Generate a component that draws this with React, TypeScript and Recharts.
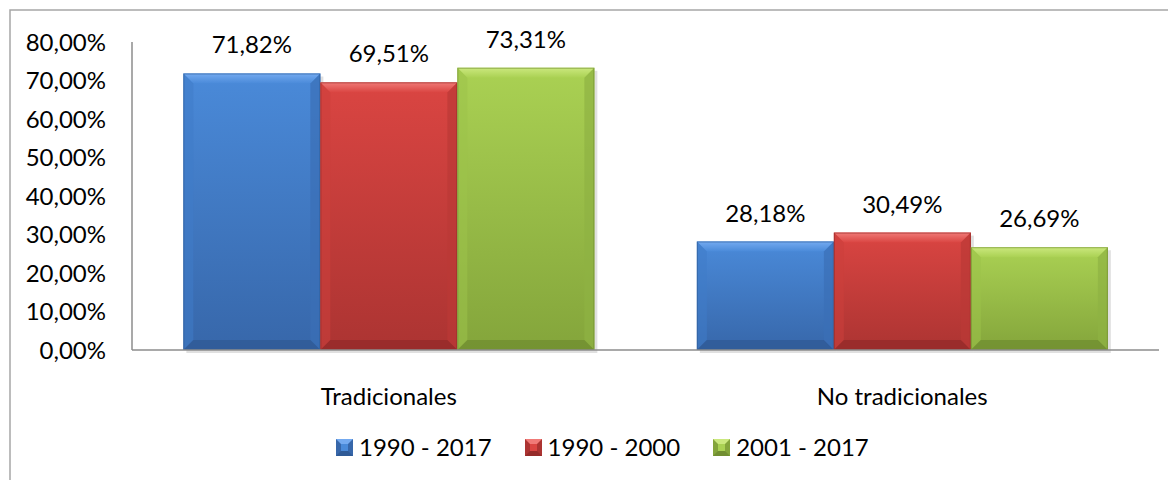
import React from "react";
import { BarChart, Bar, XAxis, YAxis, Legend, LabelList, Customized } from "recharts";

const categories = ["Tradicionales", "No tradicionales"];
const series1 = [0.7182, 0.2818];
const series2 = [0.6951, 0.3049];
const series3 = [0.7331, 0.2669];
const seriesNames = ["1990 - 2017", "1990 - 2000", "2001 - 2017"];
const yTicks = [0, 0.1, 0.2, 0.3, 0.4, 0.5, 0.6, 0.7, 0.8];

const data = categories.map((c, i) => ({
  name: c,
  s1: series1[i],
  s2: series2[i],
  s3: series3[i],
}));

const FONT = "Lato, 'Noto Sans', sans-serif";
const FS = 24;
const fmt = (v: number) => (v * 100).toFixed(2).replace(".", ",") + "%";

const palettes = [
  { id: "b", top: "#4a8ad9", bottom: "#3767aa", hi: "#74aaf0", lo: "#2f5a96", side: "#3f7bc8", sideR: "#3a6fb6", edge: "#2c5a95" },
  { id: "r", top: "#da4542", bottom: "#ac3432", hi: "#f07a77", lo: "#952b29", side: "#cc3f3c", sideR: "#bb3936", edge: "#8f2a28" },
  { id: "g", top: "#aad153", bottom: "#84a53b", hi: "#cbe87e", lo: "#718e31", side: "#9dc24a", sideR: "#8fb243", edge: "#6e8a2f" },
];

const makeShape = (p: typeof palettes[number]) => (props: any) => {
  const { x, y, width: w, height: h } = props;
  if (!h || h <= 0) return null;
  const b = Math.min(10, w / 4, h / 4);
  return (
    <g>
      <rect x={x + 3} y={y + 3} width={w} height={h} fill="rgba(0,0,0,0.12)" />
      <rect x={x} y={y} width={w} height={h} fill={`url(#grad-${p.id})`} />
      <polygon points={`${x},${y} ${x + w},${y} ${x + w - b},${y + b} ${x + b},${y + b}`} fill={`url(#hi-${p.id})`} />
      <polygon points={`${x},${y} ${x + b},${y + b} ${x + b},${y + h - b} ${x},${y + h}`} fill={p.side} opacity={0.55} />
      <polygon points={`${x + w},${y} ${x + w - b},${y + b} ${x + w - b},${y + h - b} ${x + w},${y + h}`} fill={p.sideR} opacity={0.7} />
      <polygon points={`${x},${y + h} ${x + b},${y + h - b} ${x + w - b},${y + h - b} ${x + w},${y + h}`} fill={p.lo} opacity={0.8} />
      <rect x={x + 0.5} y={y + 0.5} width={w - 1} height={h - 1} fill="none" stroke={p.edge} strokeWidth={1} opacity={0.6} />
    </g>
  );
};

const Swatch = ({ p }: { p: typeof palettes[number] }) => (
  <svg width={17} height={17} style={{ display: "block" }}>
    <rect x={0} y={0} width={17} height={17} fill={p.bottom} />
    <polygon points="0,0 17,0 12,5 5,5" fill={p.hi} />
    <polygon points="0,17 5,12 12,12 17,17" fill={p.lo} />
    <rect x={5} y={5} width={7} height={7} fill={p.top} />
  </svg>
);

const renderLegend = () => (
  <div style={{ display: "flex", alignItems: "center", height: 30, paddingLeft: 328, fontFamily: FONT, fontSize: FS, color: "#000" }}>
    {seriesNames.map((n, i) => (
      <div key={n} style={{ display: "flex", alignItems: "center", marginRight: 33 }}>
        <Swatch p={palettes[i]} />
        <span style={{ marginLeft: 6, lineHeight: "30px" }}>{n}</span>
      </div>
    ))}
  </div>
);

const CatTick = (props: any) => {
  const { x, y, payload } = props;
  return (
    <text x={x} y={y + 37} textAnchor="middle" dominantBaseline="central" fontFamily={FONT} fontSize={FS} fill="#000">
      {payload.value}
    </text>
  );
};

const Border = () => (
  <rect x={2} y={2} width={1300} height={600} fill="none" stroke="#a6a6a6" strokeWidth={1.5} />
);

export default function App() {
  const keys = ["s1", "s2", "s3"];
  return (
    <div style={{ width: 1168, height: 472, overflow: "hidden", position: "relative", background: "#fff" }}>
      <BarChart
        width={1168}
        height={472}
        data={data}
        margin={{ top: 34, right: 17, bottom: 18, left: 0 }}
        barCategoryGap="10%"
        barGap={0}
      >
        <defs>
          {palettes.map((p) => (
            <React.Fragment key={p.id}>
              <linearGradient id={`grad-${p.id}`} x1="0" y1="0" x2="0" y2="1">
                <stop offset="0%" stopColor={p.top} />
                <stop offset="100%" stopColor={p.bottom} />
              </linearGradient>
              <linearGradient id={`hi-${p.id}`} x1="0" y1="0" x2="0" y2="1">
                <stop offset="0%" stopColor={p.hi} />
                <stop offset="100%" stopColor={p.top} />
              </linearGradient>
            </React.Fragment>
          ))}
        </defs>
        <Customized component={Border} />
        <XAxis
          dataKey="name"
          height={82}
          tickLine={false}
          axisLine={{ stroke: "#8c8c8c", strokeWidth: 1.5 }}
          tick={<CatTick />}
          interval={0}
        />
        <YAxis
          width={124}
          domain={[0, 0.8]}
          ticks={yTicks}
          tickFormatter={fmt}
          tickLine={false}
          tickSize={0}
          tickMargin={26}
          axisLine={{ stroke: "#8c8c8c", strokeWidth: 1.5 }}
          tick={{ fontFamily: FONT, fontSize: FS, fill: "#000" }}
          interval={0}
        />
        <Legend verticalAlign="bottom" content={renderLegend} wrapperStyle={{ left: 0, width: 1168 }} />
        {keys.map((k, i) => (
          <Bar key={k} dataKey={k} name={seriesNames[i]} fill={palettes[i].top} shape={makeShape(palettes[i])} isAnimationActive={false}>
            <LabelList dataKey={k} position="top" offset={20} formatter={fmt as any} style={{ fontFamily: FONT, fontSize: FS, fill: "#000" }} />
          </Bar>
        ))}
      </BarChart>
    </div>
  );
}
